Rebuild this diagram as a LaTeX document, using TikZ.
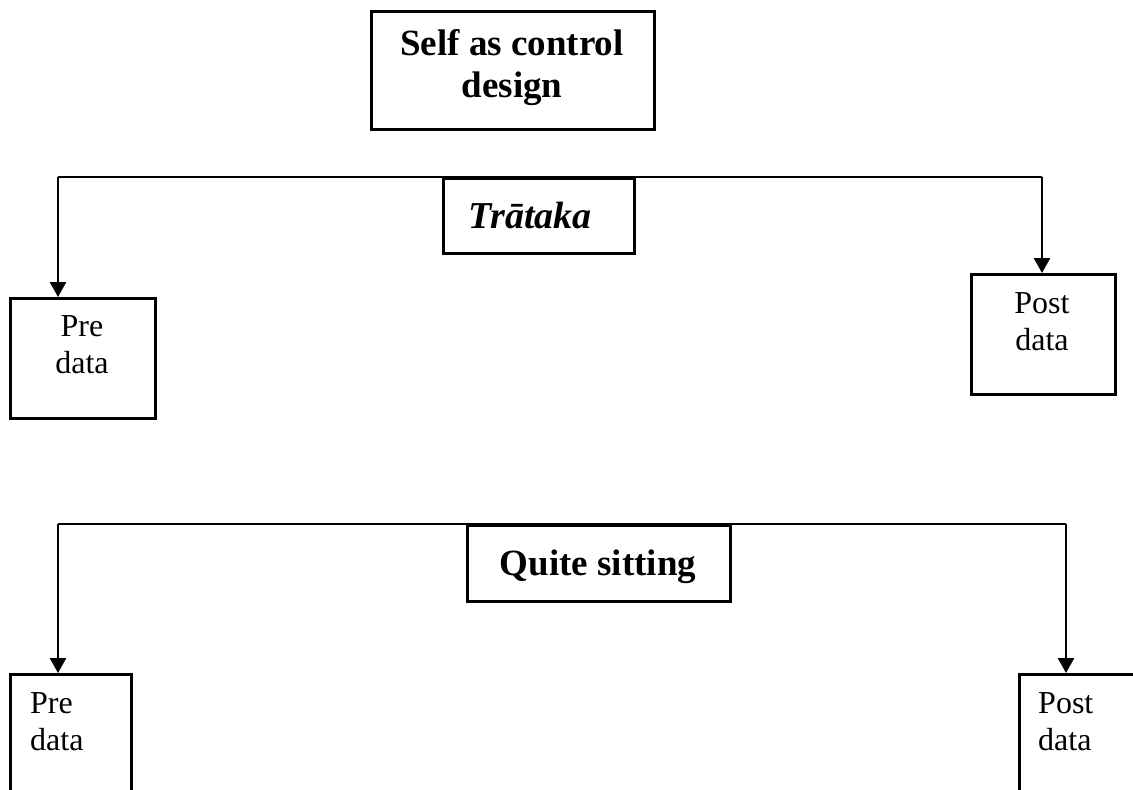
\documentclass[tikz,border=0pt]{standalone}
\usepackage{fontspec}
\setmainfont{Liberation Serif}
\usetikzlibrary{arrows.meta}
\begin{document}
\begin{tikzpicture}[x=1pt,y=-1pt,
  box/.style={draw, line width=2.6pt, inner sep=0pt, anchor=north west},
  conn/.style={line width=2.6pt},
  arr/.style={line width=2.6pt, -{Triangle[width=16pt,length=15pt]}},
  bigtxt/.style={font=\fontsize{37}{42}\selectfont\bfseries, align=center, anchor=base, inner sep=0pt},
  smalltxt/.style={font=\fontsize{32}{37}\selectfont, inner sep=0pt, anchor=base}]
\useasboundingbox (0,0) rectangle (1133,790);
\clip (0,0) rectangle (1133,790);
% boxes
\node[box, minimum width=283pt, minimum height=118pt] (top) at (370,10) {};
\node[box, minimum width=191pt, minimum height=75pt] (tr) at (442,177) {};
\node[box, minimum width=145pt, minimum height=120pt] (pre1) at (9,297) {};
\node[box, minimum width=144pt, minimum height=120pt] (post1) at (970,273) {};
\node[box, minimum width=263pt, minimum height=76pt] (qs) at (466,524) {};
\node[box, minimum width=121pt, minimum height=150pt] (pre2) at (9,673) {};
\node[box, minimum width=150pt, minimum height=150pt] (post2) at (1018,673) {};
% texts (anchor base = baseline of the last line)
\node[bigtxt] (toptxt) at (512,97) {Self as control\\design};
\node[font=\fontsize{38}{42}\selectfont\bfseries\itshape, anchor=base, inner sep=0pt] (trtxt) at (530,228) {Trātaka};
\node[bigtxt] (qstxt) at (598,575) {Quite sitting};
\node[smalltxt, align=center] (pre1txt) at (82,373) {Pre\\data};
\node[smalltxt, align=center] (post1txt) at (1042,350) {Post\\data};
\node[smalltxt, align=left, anchor=base west] (pre2txt) at (30,750) {Pre\\data};
\node[smalltxt, align=left, anchor=base west] (post2txt) at (1038,750) {Post\\data};
% connectors
\coordinate (L1) at (58,177);
\coordinate (R1) at (1042,177);
\coordinate (L2) at (58,524);
\coordinate (R2) at (1066,524);
\draw[conn] (L1) -- (R1);
\draw[arr] (L1) -- (L1 |- pre1.north);
\draw[arr] (R1) -- (R1 |- post1.north);
\draw[conn] (L2) -- (R2);
\draw[arr] (L2) -- (L2 |- pre2.north);
\draw[arr] (R2) -- (R2 |- post2.north);
\end{tikzpicture}
\end{document}
